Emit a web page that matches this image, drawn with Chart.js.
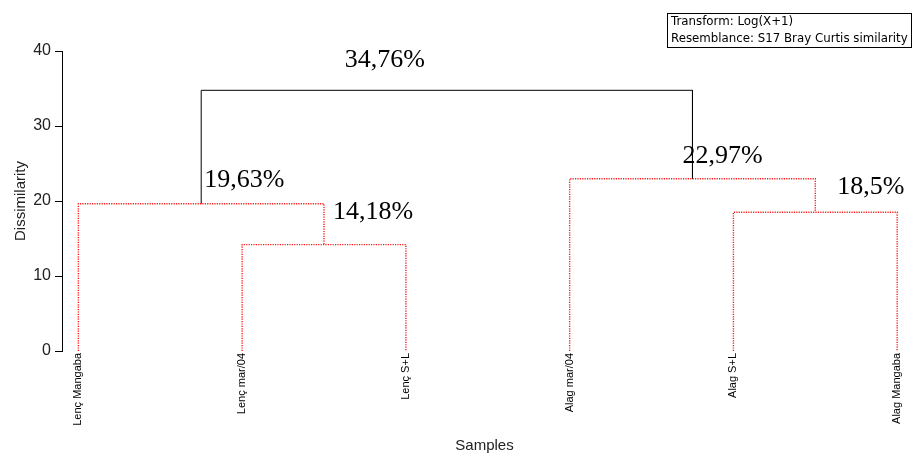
<!DOCTYPE html>
<html>
<head>
<meta charset="utf-8">
<script src="https://cdn.jsdelivr.net/npm/chart.js@4/dist/chart.umd.min.js"></script>
<style>
  html, body { margin: 0; padding: 0; background: #fff; }
  #wrap { width: 913px; height: 455px; position: relative; }
</style>
</head>
<body>
<div id="wrap"><canvas id="c" width="913" height="455"></canvas></div>
<script>
// Samples (dendrogram leaves, left to right)
const leafNames = ['Lenç Mangaba', 'Lenç mar/04', 'Lenç S+L', 'Alag mar/04', 'Alag S+L', 'Alag Mangaba'];

// Agglomeration steps: node ids 0..5 are leaves, merge k creates node 6+k
const mergeLeft    = [1, 0, 4, 3, 7];
const mergeRight   = [2, 6, 5, 8, 9];
const mergeHeights = [14.18, 19.63, 18.5, 22.97, 34.76];

// Dissimilarity axis ticks
const yTicks = [0, 10, 20, 30, 40];

const noteLines = ['Transform: Log(X+1)', 'Resemblance: S17 Bray Curtis similarity'];

// --- build node positions ---
const nodeX = leafNames.map((_, i) => i);
const nodeH = leafNames.map(() => 0);
mergeHeights.forEach((h, k) => {
  nodeX.push((nodeX[mergeLeft[k]] + nodeX[mergeRight[k]]) / 2);
  nodeH.push(h);
});

// Final merge is drawn solid black, the within-group merges dotted red
const lastMerge = mergeHeights.length - 1;
const datasets = mergeHeights.map((h, k) => {
  const a = mergeLeft[k], b = mergeRight[k];
  const top = k === lastMerge;
  return {
    data: [
      { x: nodeX[a], y: nodeH[a] },
      { x: nodeX[a], y: h },
      { x: nodeX[b], y: h },
      { x: nodeX[b], y: nodeH[b] }
    ],
    borderColor: top ? '#000' : '#ff1a1a',
    borderWidth: top ? 1 : 1.4,
    borderDash: top ? [] : [1.2, 1.2],
    pointRadius: 0,
    tension: 0,
    fill: false
  };
});

// Pixel offsets of each percentage label from its merge point
const labelDx = [9, 3, 22, -10, -102];
const labelDy = [-32, -24, -25, -23, -30];

const mergeLabelPlugin = {
  id: 'mergeLabels',
  afterDatasetsDraw(chart) {
    const { ctx, scales: { x, y } } = chart;
    ctx.save();
    ctx.font = '26px "Liberation Serif", "Times New Roman", serif';
    ctx.fillStyle = '#000';
    ctx.textAlign = 'left';
    ctx.textBaseline = 'middle';
    mergeHeights.forEach((h, k) => {
      const px = x.getPixelForValue(nodeX[6 + k]);
      const py = y.getPixelForValue(h);
      const txt = String(h).replace('.', ',') + '%';
      ctx.fillText(txt, px + labelDx[k], py + labelDy[k]);
    });
    ctx.restore();
  }
};

const notePlugin = {
  id: 'noteBox',
  afterDraw(chart) {
    const ctx = chart.ctx;
    ctx.save();
    ctx.strokeStyle = '#000';
    ctx.lineWidth = 1;
    ctx.strokeRect(667.5, 13.5, 244, 34);
    ctx.font = '11.8px "DejaVu Sans", Verdana, sans-serif';
    ctx.fillStyle = '#000';
    ctx.textAlign = 'left';
    ctx.textBaseline = 'middle';
    noteLines.forEach((t, i) => ctx.fillText(t, 671, 21.5 + i * 17.5));
    ctx.restore();
  }
};

new Chart(document.getElementById('c'), {
  type: 'line',
  data: { datasets },
  plugins: [mergeLabelPlugin, notePlugin],
  options: {
    responsive: false,
    animation: false,
    layout: { padding: { top: 51, right: 6, left: 0, bottom: 0 } },
    plugins: { legend: { display: false }, tooltip: { enabled: false } },
    scales: {
      x: {
        type: 'linear',
        min: -0.1,
        max: 5.06,
        grid: { display: false, drawTicks: false },
        border: { display: false },
        afterBuildTicks(axis) { axis.ticks = leafNames.map((_, i) => ({ value: i })); },
        afterFit(axis) { axis.height = 104; },
        ticks: {
          autoSkip: false,
          maxRotation: 90,
          minRotation: 90,
          padding: 2,
          color: '#000',
          font: { family: '"Liberation Sans", Arial, sans-serif', size: 11 },
          callback: (v) => leafNames[v]
        },
        title: {
          display: true,
          text: 'Samples',
          color: '#222',
          font: { family: '"Liberation Sans", Arial, sans-serif', size: 15 },
          padding: { top: 0, bottom: 0 }
        }
      },
      y: {
        type: 'linear',
        min: 0,
        max: 40,
        afterBuildTicks(axis) { axis.ticks = yTicks.map(v => ({ value: v })); },
        afterFit(axis) { axis.width = 62; },
        grid: { display: true, drawOnChartArea: false, drawTicks: true, tickLength: 7, color: '#000' },
        border: { display: true, color: '#000', width: 1 },
        ticks: {
          padding: 4,
          color: '#222',
          font: { family: '"Liberation Sans", Arial, sans-serif', size: 16 }
        },
        title: {
          display: true,
          text: 'Dissimilarity',
          color: '#222',
          font: { family: '"Liberation Sans", Arial, sans-serif', size: 15 },
          padding: { top: 12, bottom: 0 }
        }
      }
    }
  }
});
</script>
</body>
</html>
